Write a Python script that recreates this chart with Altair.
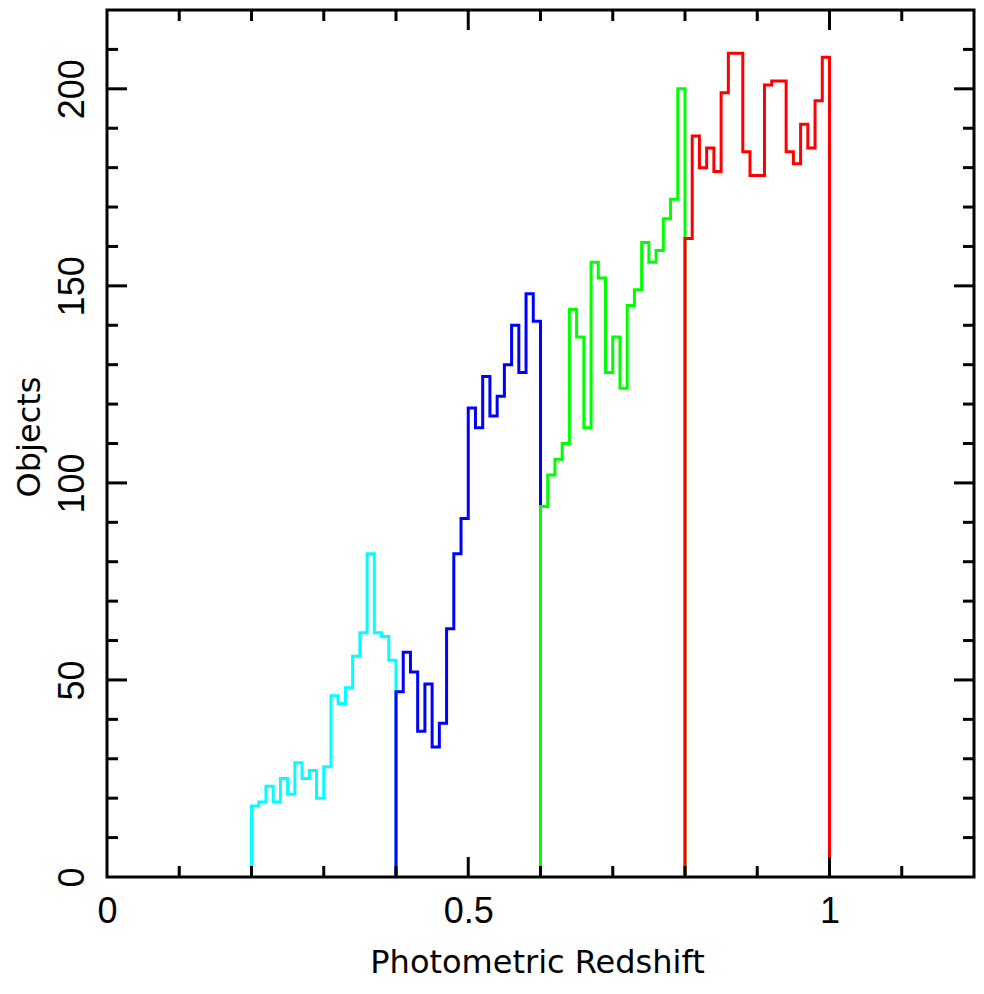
import altair as alt
import pandas as pd

# ---- data ----
BIN_WIDTH = 0.01
series_starts = [0.20, 0.40, 0.60, 0.80]
cyan_counts = [18, 19, 23, 19, 25, 21, 29, 25, 27, 20, 28, 46, 44, 48, 56, 62, 82, 62, 61, 55]
blue_counts = [47, 57, 52, 37, 49, 33, 39, 63, 82, 91, 119, 114, 127, 117, 122, 130, 140, 128, 148, 141]
green_counts = [94, 102, 106, 110, 144, 137, 114, 156, 152, 128, 137, 124, 145, 149, 161, 156, 159, 167, 172, 200]
red_counts = [162, 188, 180, 185, 179, 199, 209, 209, 184, 178, 178, 201, 202, 202, 184, 181, 191, 185, 197, 208]
series_counts = [cyan_counts, blue_counts, green_counts, red_counts]
series_colors = ["#00ffff", "#0000ff", "#00ff00", "#ff0000"]

x_label_values = [0, 0.5, 1]
y_label_values = [0, 50, 100, 150, 200]
x_major_ticks = [0.5, 1.0]
x_minor_ticks = [0.1, 0.2, 0.3, 0.4, 0.6, 0.7, 0.8, 0.9, 1.1]
y_major_ticks = [50, 100, 150, 200]
y_minor_ticks = [10, 20, 30, 40, 60, 70, 80, 90, 110, 120, 130, 140, 160, 170, 180, 190, 210]

W, H = 867, 867
MAJOR_LEN, MINOR_LEN = 20, 11

xs = alt.Scale(domain=[0, 1.2], nice=False, zero=False)
ys = alt.Scale(domain=[0, 220], nice=False, zero=False)

label_common = dict(
    grid=False, ticks=False, tickSize=0, domain=False,
    labelFont="Liberation Sans", labelFontSize=36, labelColor="black",
    labelFlush=False, labelOverlap=False,
    titleFont="DejaVu Sans", titleFontSize=32, titleFontWeight="normal",
    titleColor="black",
)
xa = alt.Axis(values=x_label_values, format="~g", title="Photometric Redshift",
              labelPadding=45, labelBaseline="alphabetic", labelAlign="center",
              titleX=430, titleY=95, titleAlign="center", titleBaseline="alphabetic",
              **label_common)
ya = alt.Axis(values=y_label_values, format="d", title="Objects",
              labelAngle=270, labelAlign="center", labelBaseline="alphabetic", labelPadding=24,
              titleAngle=270, titleX=-68, titleY=426.5, titleAlign="center",
              titleBaseline="alphabetic",
              **label_common)


def step_table(start, counts):
    rows = [{"z": start, "n": 0, "k": 0}]
    for i, c in enumerate(counts):
        rows.append({"z": round(start + i * BIN_WIDTH, 4), "n": c, "k": i + 1})
    end = round(start + len(counts) * BIN_WIDTH, 4)
    rows.append({"z": end, "n": counts[-1], "k": len(counts) + 1})
    rows.append({"z": end, "n": 0, "k": len(counts) + 2})
    return pd.DataFrame(rows)


layers = []
for start, counts, col in zip(series_starts, series_counts, series_colors):
    layers.append(
        alt.Chart(step_table(start, counts))
        .mark_line(interpolate="step-after", strokeWidth=3, strokeJoin="miter",
                   strokeCap="butt", color=col)
        .encode(x=alt.X("z:Q", scale=xs, axis=xa),
                y=alt.Y("n:Q", scale=ys, axis=ya),
                order="k:Q")
    )

rule_kw = dict(color="black", strokeWidth=3, strokeCap="butt")
for ticks, ln in [(x_major_ticks, MAJOR_LEN), (x_minor_ticks, MINOR_LEN)]:
    df = pd.DataFrame({"t": ticks})
    layers.append(alt.Chart(df).mark_rule(**rule_kw).encode(
        x=alt.X("t:Q", scale=xs, axis=xa), y=alt.value(H), y2=alt.value(H - ln)))
    layers.append(alt.Chart(df).mark_rule(**rule_kw).encode(
        x=alt.X("t:Q", scale=xs, axis=xa), y=alt.value(0), y2=alt.value(ln)))
for ticks, ln in [(y_major_ticks, MAJOR_LEN), (y_minor_ticks, MINOR_LEN)]:
    df = pd.DataFrame({"t": ticks})
    layers.append(alt.Chart(df).mark_rule(**rule_kw).encode(
        y=alt.Y("t:Q", scale=ys, axis=ya), x=alt.value(0), x2=alt.value(ln)))
    layers.append(alt.Chart(df).mark_rule(**rule_kw).encode(
        y=alt.Y("t:Q", scale=ys, axis=ya), x=alt.value(W), x2=alt.value(W - ln)))

chart = (
    alt.layer(*layers)
    .properties(width=W, height=H, autosize="none",
                padding={"left": 99, "top": 2, "right": 2, "bottom": 103},
                background="white")
    .configure_view(stroke="black", strokeWidth=3)
)

chart.save("out.html", embed_options={"renderer": "svg", "actions": False})
